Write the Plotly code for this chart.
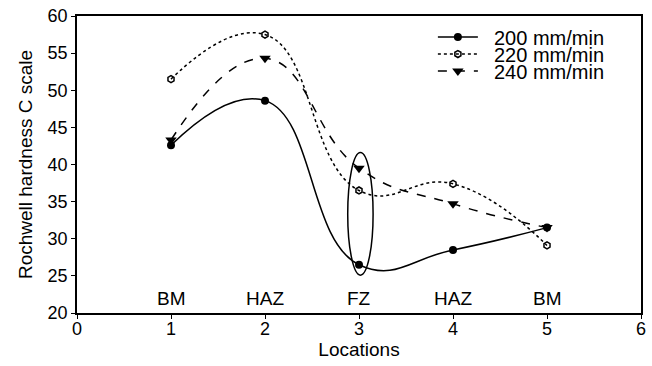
import plotly.graph_objects as go

locations = [1, 2, 3, 4, 5]
zone_labels = ["BM", "HAZ", "FZ", "HAZ", "BM"]
s200 = [42.6, 48.6, 26.5, 28.5, 31.5]
s220 = [51.5, 57.5, 36.5, 37.4, 29.1]
s240 = [43.3, 54.3, 39.5, 34.7, 31.5]
names = ["200 mm/min", "220 mm/min", "240 mm/min"]

FONT = "Liberation Sans"
NB = "\u00a0\u00a0"
fig = go.Figure()
fig.add_trace(go.Scatter(x=locations, y=s200, name=NB + names[0], mode="lines+markers", legend="legend",
                         line=dict(color="black", width=1.5, shape="spline", smoothing=1.3),
                         marker=dict(symbol="circle", size=8, color="black")))
fig.add_trace(go.Scatter(x=locations, y=s220, name=NB + names[1], mode="lines+markers", legend="legend2",
                         line=dict(color="black", width=1.5, dash="dot", shape="spline", smoothing=1.3),
                         marker=dict(symbol="hexagon-open", size=7, color="black", line=dict(width=1.5))))
fig.add_trace(go.Scatter(x=locations, y=s240, name=NB + names[2], mode="lines+markers", legend="legend3",
                         line=dict(color="black", width=1.5, dash="dash", shape="spline", smoothing=1.3),
                         marker=dict(symbol="triangle-down", size=10, color="black")))

for x, t in zip(locations, zone_labels):
    fig.add_annotation(x=x, y=22, text=t, showarrow=False,
                       font=dict(size=19, color="black", family=FONT))

fig.add_shape(type="circle", xref="x", yref="y", x0=2.88, x1=3.15, y0=25.1, y1=41.6,
              line=dict(color="black", width=1.5))

leg = dict(xanchor="left", yanchor="middle", x=0.631, bgcolor="rgba(0,0,0,0)",
           font=dict(size=20, family=FONT, color="black"), itemwidth=40)
fig.update_layout(
    width=652, height=366,
    margin=dict(l=77, r=11, t=16, b=53),
    paper_bgcolor="white", plot_bgcolor="white",
    font=dict(family=FONT, size=19, color="black"),
    showlegend=True,
    legend=dict(leg, y=0.929),
    legend2=dict(leg, y=0.872),
    legend3=dict(leg, y=0.815),
    xaxis=dict(range=[0, 6], dtick=1, showgrid=False, zeroline=False, automargin=False,
               showline=True, linecolor="black", linewidth=1.5, mirror=True,
               ticks="outside", ticklen=4, tickcolor="black", tickfont=dict(size=18),
               ticklabelstandoff=-5, ticklabeloverflow="allow",
               title=dict(text="Locations", standoff=3, font=dict(size=19))),
    yaxis=dict(range=[20, 60], dtick=5, showgrid=False, zeroline=False, automargin=False,
               showline=True, linecolor="black", linewidth=1.5, mirror=True,
               ticks="outside", ticklen=4, tickcolor="black", tickfont=dict(size=18),
               ticklabeloverflow="allow",
               title=dict(text="Rochwell hardness C scale", standoff=10, font=dict(size=19))),
)
fig.write_html("out.html", config={"displayModeBar": False},
               post_script="document.body.style.margin='0';document.body.style.overflow='hidden';")
